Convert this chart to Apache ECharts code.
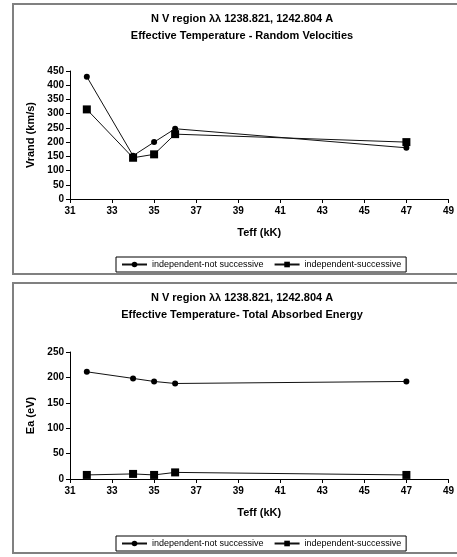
<!DOCTYPE html>
<html>
<head>
<meta charset="utf-8">
<script src="https://cdn.jsdelivr.net/npm/echarts@6/dist/echarts.min.js"></script>
<style>
  html, body { margin: 0; padding: 0; background: #fff; }
  #chart { width: 457px; height: 557px; }
</style>
</head>
<body>
<div id="chart"></div>
<script>
// data
const teff = [31.8, 34, 35, 36, 47]
const vrandNotSucc = [430, 152, 200, 247, 180]
const vrandSucc = [315, 145, 157, 228, 200]
const eaNotSucc = [211, 198, 192, 188, 192]
const eaSucc = [8, 10, 8, 13, 8]
const xTicks = [31, 33, 35, 37, 39, 41, 43, 45, 47, 49]

const names = ['independent-not successive', 'independent-successive']
const titles = [
  'N V region λλ 1238.821, 1242.804 A\nEffective Temperature - Random Velocities',
  'N V region λλ 1238.821, 1242.804 A\nEffective Temperature- Total Absorbed Energy',
]

const pairs = (ys) => teff.map((t, i) => [t, ys[i]])

const font = 'Liberation Sans, Arial, sans-serif'
const ink = '#000'

const chart = echarts.init(document.getElementById('chart'), null, { renderer: 'canvas' })

const xAxisFor = (idx) => ({
  type: 'value',
  gridIndex: idx,
  min: 31,
  max: 49,
  name: 'Teff (kK)',
  nameLocation: 'middle',
  nameGap: 28,
  nameTextStyle: { fontFamily: font, fontWeight: 'bold', fontSize: 11, color: ink },
  splitLine: { show: false },
  axisLine: { lineStyle: { color: ink, width: 1 } },
  axisTick: { show: true, length: 4, customValues: xTicks, lineStyle: { color: ink } },
  axisLabel: {
    customValues: xTicks,
    fontFamily: font, fontWeight: 'bold', fontSize: 10, color: ink, margin: 7,
  },
})

const yAxisFor = (idx, name, max) => ({
  type: 'value',
  gridIndex: idx,
  min: 0,
  max: max,
  interval: 50,
  name: name,
  nameLocation: 'middle',
  nameGap: 31,
  nameTextStyle: { fontFamily: font, fontWeight: 'bold', fontSize: 11, color: ink },
  splitLine: { show: false },
  axisLine: { show: true, lineStyle: { color: ink, width: 1 } },
  axisTick: { show: true, length: 4, lineStyle: { color: ink } },
  axisLabel: { fontFamily: font, fontWeight: 'bold', fontSize: 10, color: ink, margin: 6 },
})

const lineSeries = (name, idx, ys, symbol, size) => ({
  name: name,
  type: 'line',
  xAxisIndex: idx,
  yAxisIndex: idx,
  data: pairs(ys),
  symbol: symbol,
  symbolSize: size,
  showAllSymbol: true,
  animation: false,
  lineStyle: { color: '#111', width: 1 },
  itemStyle: { color: '#000', borderWidth: 0 },
})

const legendFor = (top) => ({
  left: 116,
  top: top,
  orient: 'horizontal',
  data: names,
  itemWidth: 25,
  itemHeight: 7,
  itemGap: 10,
  padding: [3, 5],
  borderColor: ink,
  borderWidth: 1,
  selectedMode: false,
  textStyle: { fontFamily: font, fontSize: 9, color: ink },
})

const titleFor = (top, text) => ({
  text: text,
  left: 237,
  top: top,
  textAlign: 'center',
  textStyle: { fontFamily: font, fontWeight: 'bold', fontSize: 11, color: ink, lineHeight: 17 },
})

const option = {
  backgroundColor: '#fff',
  animation: false,
  title: [titleFor(5, titles[0]), titleFor(284, titles[1])],
  legend: [legendFor(257), legendFor(536)],
  grid: [
    { left: 70, top: 71, width: 382, height: 128, containLabel: false },
    { left: 70, top: 352, width: 382, height: 127, containLabel: false },
  ],
  xAxis: [xAxisFor(0), xAxisFor(1)],
  yAxis: [yAxisFor(0, 'Vrand (km/s)', 450), yAxisFor(1, 'Ea (eV)', 250)],
  series: [
    lineSeries(names[0], 0, vrandNotSucc, 'circle', 6),
    lineSeries(names[1], 0, vrandSucc, 'rect', 8),
    lineSeries(names[0], 1, eaNotSucc, 'circle', 6),
    lineSeries(names[1], 1, eaSucc, 'rect', 8),
  ],
  graphic: [
    { type: 'rect', shape: { x: 13, y: 4, width: 450, height: 270 }, style: { fill: 'none', stroke: '#808080', lineWidth: 2 }, z: -1 },
    { type: 'rect', shape: { x: 13, y: 283, width: 450, height: 270 }, style: { fill: 'none', stroke: '#808080', lineWidth: 2 }, z: -1 },
  ],
}

chart.setOption(option)
</script>
</body>
</html>
